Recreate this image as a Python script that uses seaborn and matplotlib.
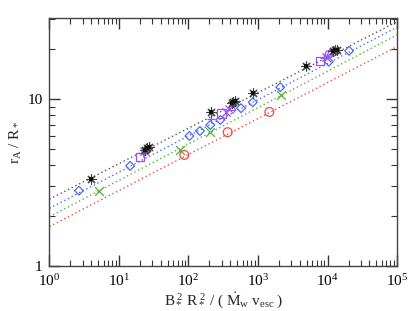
import numpy as np
import pandas as pd
import matplotlib
matplotlib.use("Agg")
import matplotlib.pyplot as plt
import seaborn as sns
from matplotlib.ticker import LogLocator, NullFormatter, FixedLocator, FixedFormatter

sns.set_theme(style="ticks")
plt.rcParams['font.family'] = ['Liberation Serif', 'DejaVu Serif']
plt.rcParams['mathtext.fontset'] = 'custom'
plt.rcParams['mathtext.rm'] = 'Liberation Serif'
plt.rcParams['mathtext.it'] = 'Liberation Serif:italic'

# --- data ---
black_x = [4.0, 24, 25.5, 27, 211, 420, 440, 460, 850, 4900, 12000, 12800, 13500]
black_y = [3.33, 4.95, 5.05, 5.15, 8.4, 9.45, 9.6, 9.7, 10.9, 15.8, 19.3, 19.5, 19.6]

blue_x = [2.66, 14.5, 103, 146, 206, 287, 570, 840, 2090, 10400, 20400]
blue_y = [2.82, 3.97, 6.0, 6.43, 6.98, 7.49, 8.8, 9.55, 11.75, 16.7, 19.4]

green_x = [5.2, 76, 206, 2140]
green_y = [2.82, 4.97, 6.32, 10.57]

red_x = [87, 366, 1455]
red_y = [4.62, 6.32, 8.36]

purple_sq_x = [20, 300, 7800]
purple_sq_y = [4.5, 8.2, 16.9]
purple_plus_x = [22, 210, 9000]
purple_plus_y = [4.75, 7.6, 17.5]
purple_x_x = [23, 350, 380, 9500]
purple_x_y = [4.85, 8.4, 8.7, 17.8]
purple_tri_x = [24, 420, 11000]
purple_tri_y = [5.0, 9.0, 19.0]
purple_circ_x = [10500]
purple_circ_y = [18.5]

# fit lines: values at x = 1 and x = 1e5
fit_x = [1.0, 1e5]
fit_black = [2.51, 29.0]
fit_blue = [2.21, 26.9]
fit_green = [1.97, 24.2]
fit_red = [1.72, 20.6]

xticks = [1, 10, 100, 1000, 1e4, 1e5]
xticklabels = [r'$\mathregular{10^{0}}$', r'$\mathregular{10^{1}}$', r'$\mathregular{10^{2}}$',
               r'$\mathregular{10^{3}}$', r'$\mathregular{10^{4}}$', r'$\mathregular{10^{5}}$']
yticks = [1, 10]
yticklabels = ['1', '10']

c_black = '#111111'
c_blue = '#4a6cf7'
c_green = '#55b041'
c_red = '#ee4b3f'
c_purple = '#9a55ee'

fig = plt.figure(figsize=(4.15, 3.11), dpi=100)
ax = fig.add_axes([0.119, 0.145, 0.838, 0.797])

for ys, c in [(fit_black, '#555555'), (fit_blue, c_blue), (fit_green, c_green), (fit_red, c_red)]:
    sns.lineplot(x=fit_x, y=ys, ax=ax, color=c, linestyle=(0, (1, 2)), linewidth=1.0)

def open_pts(xs, ys, marker, color, s):
    sns.scatterplot(x=xs, y=ys, ax=ax, marker=marker, s=s, facecolor='none',
                    edgecolor=color, linewidth=0.9, zorder=3)

def line_pts(xs, ys, marker, color, s):
    sns.scatterplot(x=xs, y=ys, ax=ax, marker=marker, s=s, color=color,
                    linewidth=0.9, zorder=3)

open_pts(blue_x, blue_y, 'D', c_blue, 20)
line_pts(green_x, green_y, 'x', c_green, 40)
open_pts(red_x, red_y, 'o', c_red, 40)
open_pts(purple_sq_x, purple_sq_y, 's', c_purple, 38)
line_pts(purple_plus_x, purple_plus_y, '+', c_purple, 40)
line_pts(purple_x_x, purple_x_y, 'x', c_purple, 35)
open_pts(purple_tri_x, purple_tri_y, '^', c_purple, 30)
open_pts(purple_circ_x, purple_circ_y, 'o', c_purple, 30)
sns.scatterplot(x=black_x, y=black_y, ax=ax, marker=(8, 2, 0), s=45, color='#444444',
                linewidth=0.8, zorder=4)
sns.scatterplot(x=black_x, y=black_y, ax=ax, marker='s', s=10, color=c_black, linewidth=0, zorder=5)

ax.set_xscale('log')
ax.set_yscale('log')
ax.set_xlim(1, 1e5)
ax.set_ylim(1, 30.5)

ax.xaxis.set_major_locator(FixedLocator(xticks))
ax.xaxis.set_major_formatter(FixedFormatter(xticklabels))
ax.xaxis.set_minor_locator(LogLocator(base=10, subs=np.arange(2, 10)))
ax.xaxis.set_minor_formatter(NullFormatter())
ax.yaxis.set_major_locator(FixedLocator(yticks))
ax.yaxis.set_major_formatter(FixedFormatter(yticklabels))
ax.yaxis.set_minor_locator(LogLocator(base=10, subs=np.arange(2, 10)))
ax.yaxis.set_minor_formatter(NullFormatter())

ax.tick_params(which='both', direction='in', top=True, right=True, colors='#333333', labelcolor='black')
ax.tick_params(which='major', length=8, width=1.0, labelsize=11, pad=5)
ax.tick_params(which='minor', length=4, width=0.8)
for sp in ax.spines.values():
    sp.set_color('#444444')
    sp.set_linewidth(1.0)

ax.set_xlabel(r'$\mathregular{B_*^{\ 2}\ R_*^{\ 2}\ /\ (\ \dot{M}_w\ v_{esc}\ )}$', fontsize=11, labelpad=1)
ax.set_ylabel(r'$\mathregular{r_A\ /\ R_*}$', fontsize=11, labelpad=2)

fig.savefig('out.png', dpi=100)
